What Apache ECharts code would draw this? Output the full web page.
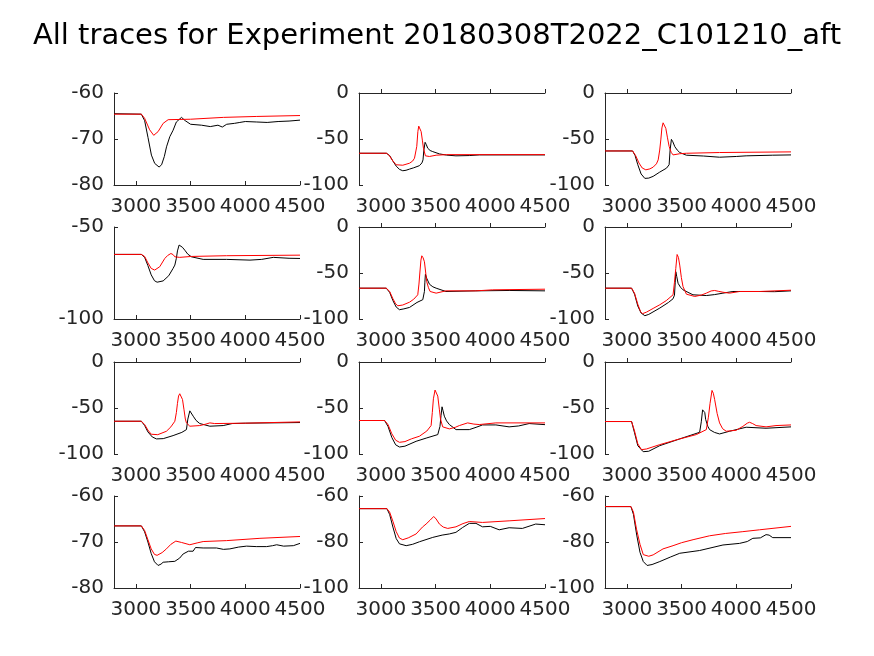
<!DOCTYPE html>
<html><head><meta charset="utf-8">
<script src="https://cdn.jsdelivr.net/npm/echarts@6/dist/echarts.min.js"></script>
<style>html,body{margin:0;padding:0;background:#fff}#c{width:874px;height:656px}</style>
</head><body><div id="c"></div><script>
const titleText = 'All traces for Experiment 20180308T2022_C101210_aft';
const xTicks = [3000, 3500, 4000, 4500];
const xMin = 2800, xMax = 4500;
const yMins = [-80, -100, -100, -100, -100, -100, -100, -100, -100, -80, -100, -100];
const yMaxs = [-60, 0, 0, -50, 0, 0, 0, 0, 0, -60, -60, -60];
const yIntervals = [10, 50, 50, 50, 50, 50, 50, 50, 50, 10, 20, 20];

const p1Black = [[2800,-64.5],[3050,-64.6],[3080,-66],[3111,-69.7],[3142,-73.5],[3172,-75.3],[3212,-76.1],[3235,-75.6],[3260,-73.8],[3280,-71.7],[3310,-69.5],[3340,-68.1],[3370,-66.3],[3417,-65.3],[3450,-66],[3500,-66.8],[3600,-67],[3680,-67.3],[3750,-67],[3790,-67.4],[3830,-66.8],[3900,-66.6],[3950,-66.4],[4000,-66.2],[4100,-66.3],[4200,-66.4],[4300,-66.2],[4400,-66.1],[4500,-65.9]];
const p1Red = [[2800,-64.6],[3050,-64.6],[3080,-65.5],[3126,-68],[3163,-69.2],[3203,-68.4],[3249,-66.6],[3295,-65.8],[3500,-65.7],[3800,-65.3],[4100,-65.1],[4500,-64.9]];
const p2Black = [[2800,-65.5],[3050,-65.5],[3080,-68],[3110,-74],[3140,-79.5],[3170,-83],[3200,-84.5],[3230,-84],[3262,-82.7],[3300,-81.3],[3352,-79],[3375,-76],[3385,-72.7],[3393,-62],[3404,-53.6],[3415,-56],[3428,-60],[3450,-62.5],[3474,-63.7],[3535,-66.2],[3600,-67.5],[3686,-68.3],[3808,-68],[3900,-67.3],[4500,-67.3]];
const p2Red = [[2800,-65.5],[3055,-65.5],[3080,-68.5],[3110,-74],[3140,-78],[3155,-78.8],[3200,-78.5],[3262,-76.3],[3290,-74],[3307,-70.9],[3320,-63],[3328,-58],[3338,-42],[3346,-36],[3358,-38],[3368,-42],[3380,-52],[3389,-60],[3407,-68.3],[3444,-69],[3505,-67.6],[3600,-67],[4500,-67]];
const p3Black = [[2800,-63],[3052,-63],[3075,-68],[3100,-78],[3130,-88],[3164,-92.8],[3200,-92.5],[3240,-90.6],[3300,-86],[3362,-81.7],[3386,-78],[3395,-62],[3407,-50.4],[3420,-53],[3438,-58.3],[3460,-62],[3483,-64.7],[3544,-67.6],[3700,-68.5],[3847,-69.8],[4000,-69],[4090,-68.3],[4333,-67.6],[4500,-67.3]];
const p3Red = [[2800,-63],[3052,-63],[3080,-68],[3110,-76],[3140,-81.5],[3173,-83.5],[3210,-82.5],[3240,-80.6],[3270,-77],[3286,-72.7],[3300,-62],[3310,-51],[3320,-38],[3331,-32.4],[3343,-34],[3356,-38.5],[3370,-48],[3386,-58],[3405,-64.5],[3422,-67.3],[3483,-66],[3544,-65.5],[3847,-64.7],[4500,-64]];
const p4Black = [[2800,-64.9],[3050,-64.9],[3080,-66.5],[3110,-71],[3140,-76],[3170,-79.2],[3194,-80],[3249,-79.3],[3300,-76.5],[3340,-72.5],[3356,-70.7],[3370,-67],[3380,-63],[3395,-59.8],[3407,-59.5],[3425,-61],[3447,-62.6],[3475,-64.8],[3508,-66.2],[3615,-67.6],[3829,-67.6],[4043,-68],[4150,-67.6],[4256,-66.5],[4400,-67],[4500,-67.1]];
const p4Red = [[2800,-64.9],[3050,-64.9],[3080,-66],[3110,-69.5],[3140,-72.5],[3172,-73.4],[3218,-71.6],[3264,-67.1],[3290,-65.5],[3320,-64.4],[3340,-65],[3356,-66.2],[3400,-66.5],[3508,-66],[3829,-65.6],[4500,-65.3]];
const p5Black = [[2800,-66.5],[3049,-66.5],[3080,-71],[3110,-80],[3140,-87],[3170,-89.9],[3210,-89],[3262,-87.4],[3330,-82],[3383,-79],[3398,-70],[3402,-60],[3407,-51.4],[3420,-56],[3444,-62.2],[3475,-65],[3505,-66.5],[3595,-70.1],[3868,-69.4],[4172,-69],[4500,-69.4]];
const p5Red = [[2800,-66.5],[3049,-66.5],[3080,-70],[3110,-78],[3135,-83.5],[3155,-85.6],[3200,-84.8],[3262,-81.7],[3300,-78.5],[3337,-73.7],[3348,-62],[3356,-50],[3366,-36],[3374,-31.3],[3386,-33.5],[3398,-37.8],[3410,-50],[3419,-59.4],[3435,-66],[3450,-70.1],[3505,-71.9],[3595,-69.4],[3868,-69.4],[4021,-68.3],[4500,-67.6]];
const p6Black = [[2800,-66.5],[3043,-66.5],[3070,-73],[3100,-86],[3130,-93.5],[3164,-96.4],[3200,-95],[3301,-88.1],[3380,-82],[3422,-78],[3435,-74],[3442,-60],[3447,-48.6],[3456,-54],[3468,-61.2],[3490,-65.5],[3513,-68.3],[3604,-73.7],[3726,-74.5],[3800,-73.5],[3878,-71.9],[3969,-70.1],[4212,-70.1],[4350,-70.3],[4500,-69.4]];
const p6Red = [[2800,-66.5],[3043,-66.5],[3070,-72],[3100,-84],[3125,-92],[3143,-94.2],[3180,-92.5],[3240,-88.5],[3301,-84.5],[3360,-80],[3422,-73.7],[3435,-60],[3447,-45],[3459,-29.9],[3471,-33],[3483,-41.4],[3498,-55],[3513,-64.7],[3544,-73],[3620,-75.5],[3680,-74],[3726,-71.9],[3770,-69.5],[3802,-69],[3840,-70],[3878,-70.9],[3938,-71.9],[4030,-70.1],[4212,-70.1],[4500,-68.7]];
const p7Black = [[2800,-64.4],[3050,-64.4],[3080,-69],[3110,-76],[3150,-81.5],[3188,-83.6],[3250,-83.3],[3340,-80],[3420,-76.5],[3462,-73.5],[3475,-62],[3493,-53.1],[3508,-55],[3524,-58.9],[3550,-63.5],[3584,-66.9],[3676,-69.8],[3798,-69.1],[3880,-66.9],[4000,-66.5],[4500,-65.8]];
const p7Red = [[2800,-64.4],[3050,-64.4],[3080,-68],[3110,-74],[3140,-78.5],[3157,-79.6],[3200,-79],[3279,-75.3],[3320,-70.5],[3356,-64.4],[3370,-55],[3380,-45],[3390,-37],[3401,-34.5],[3414,-36.5],[3426,-40.7],[3440,-52],[3452,-62],[3462,-66.2],[3493,-69.8],[3584,-69.1],[3640,-67.5],[3676,-66.2],[3720,-66.9],[4000,-66.5],[4500,-65.1]];
const p8Black = [[2800,-63.6],[3034,-63.6],[3065,-70],[3100,-82],[3135,-90],[3170,-92.4],[3220,-91.5],[3322,-86.2],[3420,-82.5],[3520,-78.9],[3540,-70],[3550,-58],[3559,-48.7],[3568,-53],[3580,-58.9],[3600,-64],[3626,-68],[3687,-73.5],[3808,-73.5],[3870,-71],[3929,-68.4],[4051,-68.4],[4172,-70.5],[4260,-69.5],[4355,-66.9],[4500,-68.1]];
const p8Red = [[2800,-63.6],[3034,-63.6],[3065,-68],[3100,-78],[3135,-85],[3170,-87.3],[3220,-86.5],[3280,-83.5],[3352,-80.7],[3420,-75],[3459,-69.1],[3470,-55],[3480,-40],[3495,-30.5],[3508,-32],[3520,-37.1],[3535,-52],[3545,-62],[3565,-70.5],[3626,-72.7],[3680,-71],[3717,-69.1],[3793,-66.2],[3850,-67.5],[3899,-68],[4051,-66.2],[4500,-66.2]];
const p9Black = [[2800,-64.7],[3043,-64.7],[3070,-77],[3100,-91],[3149,-97.5],[3200,-97],[3301,-90.9],[3483,-83.6],[3665,-76.4],[3680,-65],[3692,-52],[3702,-50.5],[3712,-55],[3720,-62.5],[3740,-70],[3756,-73.5],[3800,-76.5],[3847,-78.2],[3938,-75.3],[4090,-70.9],[4272,-72],[4500,-70.5]];
const p9Red = [[2800,-64.7],[3043,-64.7],[3070,-75],[3100,-89],[3134,-95.3],[3180,-94.5],[3301,-89.8],[3483,-83.6],[3635,-78.9],[3726,-73.5],[3745,-60],[3760,-45],[3778,-30.9],[3790,-34],[3802,-40.7],[3825,-56],[3847,-66.2],[3875,-72.5],[3908,-75.3],[3999,-74.2],[4060,-70],[4100,-66.5],[4121,-65.5],[4150,-67],[4181,-69.1],[4272,-70.5],[4363,-69.1],[4500,-68.4]];
const p10Black = [[2800,-66.5],[3050,-66.5],[3080,-67.8],[3110,-70],[3140,-72.5],[3170,-74.3],[3203,-75.1],[3230,-74.8],[3249,-74.4],[3300,-74.3],[3356,-74.2],[3400,-73.5],[3432,-72.6],[3480,-72],[3523,-72],[3545,-71.2],[3615,-71.3],[3737,-71.3],[3800,-71.6],[3859,-71.5],[3940,-71.1],[4012,-70.9],[4100,-71],[4195,-71],[4250,-70.8],[4287,-70.6],[4350,-70.9],[4439,-70.8],[4500,-70.3]];
const p10Red = [[2800,-66.5],[3050,-66.5],[3080,-67.5],[3110,-69.5],[3140,-71.5],[3170,-72.7],[3194,-72.9],[3240,-72.3],[3279,-71.5],[3320,-70.5],[3365,-69.8],[3417,-70.1],[3493,-70.6],[3560,-70.2],[3615,-69.9],[3829,-69.7],[4134,-69.2],[4500,-68.8]];
const p11Black = [[2800,-65.5],[3055,-65.5],[3080,-68],[3110,-73.5],[3140,-78.5],[3170,-80.8],[3231,-81.6],[3290,-81],[3352,-79.9],[3474,-78],[3560,-77],[3626,-76.5],[3686,-75.8],[3747,-73.7],[3808,-71.9],[3869,-71.9],[3929,-73.4],[4000,-73.2],[4081,-74.7],[4172,-73.8],[4293,-74.1],[4415,-72.2],[4500,-72.5]];
const p11Red = [[2800,-65.5],[3055,-65.5],[3080,-67],[3110,-71],[3140,-75.5],[3170,-78.3],[3200,-79],[3250,-78.2],[3322,-76.5],[3380,-73.5],[3413,-72.2],[3450,-70.5],[3483,-68.9],[3505,-70],[3535,-72.2],[3570,-73.5],[3611,-74.1],[3686,-73.4],[3750,-72],[3808,-71.1],[3929,-71.5],[4172,-70.8],[4500,-69.8]];
const p12Black = [[2800,-64.6],[3037,-64.6],[3060,-68],[3090,-77],[3120,-84.5],[3150,-88.5],[3185,-90.2],[3230,-89.8],[3301,-88.5],[3400,-86.5],[3483,-84.9],[3665,-83.7],[3878,-81.3],[4030,-80.6],[4100,-79.8],[4151,-78.4],[4220,-78.2],[4272,-76.8],[4300,-77],[4333,-78.1],[4500,-78.1]];
const p12Red = [[2800,-64.6],[3037,-64.6],[3060,-67],[3088,-74.4],[3120,-81],[3150,-85.5],[3164,-86.3],[3200,-86.2],[3240,-85.6],[3330,-83],[3422,-81.6],[3500,-80.3],[3605,-79],[3756,-77.3],[3900,-76.3],[4060,-75.5],[4212,-74.7],[4500,-73.2]];

const blacks = [p1Black,p2Black,p3Black,p4Black,p5Black,p6Black,p7Black,p8Black,p9Black,p10Black,p11Black,p12Black];
const reds = [p1Red,p2Red,p3Red,p4Red,p5Red,p6Red,p7Red,p8Red,p9Red,p10Red,p11Red,p12Red];

const colLefts = [114, 359, 605];
const rowTops = [93, 227, 362, 496];
const gw = 186, gh = 92;
const axisColor = '#262626';
const font = 'DejaVu Sans';
const fs = 20;

const grids = [], xAxes = [], yAxes = [], series = [];
for (let i = 0; i < 12; i++) {
  const r = Math.floor(i / 3), c = i % 3;
  grids.push({left: colLefts[c], top: rowTops[r], width: gw, height: gh});
  xAxes.push({
    type: 'value', gridIndex: i, min: xMin, max: xMax,
    axisLine: {show: true, lineStyle: {color: axisColor, width: 1}},
    axisTick: {show: true, inside: true, length: 4, customValues: xTicks, lineStyle: {color: axisColor}},
    axisLabel: {customValues: xTicks, fontSize: fs, color: axisColor, fontFamily: font, margin: 12,
      formatter: v => String(v)},
    splitLine: {show: false}
  });
  yAxes.push({
    type: 'value', gridIndex: i, min: yMins[i], max: yMaxs[i], interval: yIntervals[i],
    axisLine: {show: true, lineStyle: {color: axisColor, width: 1}},
    axisTick: {show: true, inside: true, length: 4, lineStyle: {color: axisColor}},
    axisLabel: {fontSize: fs, color: axisColor, fontFamily: font, margin: 10, formatter: v => String(v)},
    splitLine: {show: false}
  });
  series.push({type: 'line', xAxisIndex: i, yAxisIndex: i, data: blacks[i], showSymbol: false, symbol: 'none',
    lineStyle: {color: '#000000', width: 1}, itemStyle: {color: '#000000'}, animation: false, clip: true});
  series.push({type: 'line', xAxisIndex: i, yAxisIndex: i, data: reds[i], showSymbol: false, symbol: 'none',
    lineStyle: {color: '#ff0000', width: 1}, itemStyle: {color: '#ff0000'}, animation: false, clip: true});
}

const chart = echarts.init(document.getElementById('c'), null, {renderer: 'canvas'});
chart.setOption({
  backgroundColor: '#ffffff',
  animation: false,
  title: {text: titleText, left: 'center', top: 17, textStyle: {fontFamily: font, fontSize: 29, fontWeight: 'normal', color: '#000000'}},
  grid: grids, xAxis: xAxes, yAxis: yAxes, series: series
});
</script></body></html>
